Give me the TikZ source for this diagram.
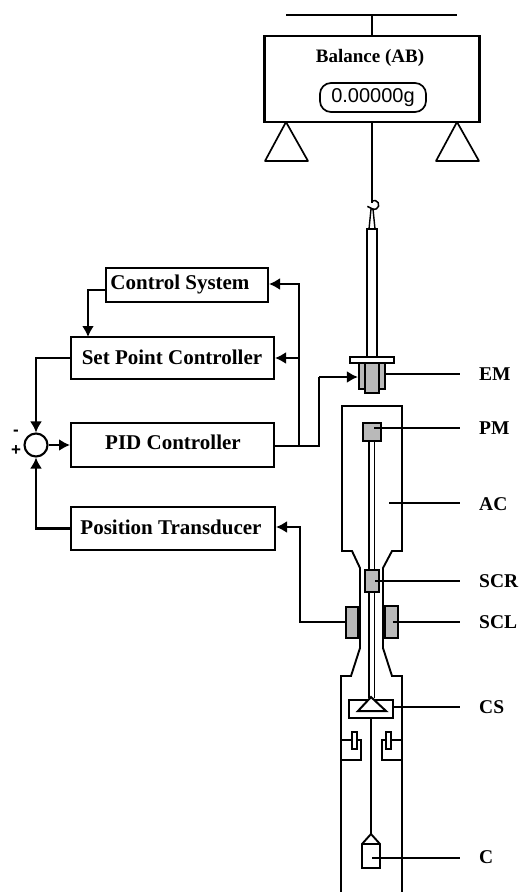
\documentclass[tikz,border=0pt]{standalone}
\usepackage{fontspec}
\setmainfont{Liberation Serif}
\setsansfont{Liberation Sans}
\usetikzlibrary{arrows.meta,calc}
\tikzset{
  ctrlbox/.style={draw,line width=2pt,anchor=center,inner sep=0pt},
  ctrltxt/.style={inner sep=0pt,font=\fontsize{21}{24}\selectfont\bfseries},
  conn/.style={line width=2.1pt},
  arr/.style={line width=2.1pt,-{Latex[length=11pt,width=12pt]}},
  wall/.style={line width=1.9pt,line join=miter},
  part/.style={draw,line width=2.2pt,fill=gray!55},
  tag/.style={anchor=west,inner sep=0pt,font=\fontsize{19.5}{22}\selectfont\bfseries},
  lead/.style={line width=1.7pt},
}
\begin{document}
\begin{tikzpicture}[x=1pt,y=-1pt]
\useasboundingbox (0,0) rectangle (522,892);
% balance
\coordinate (barL) at (286,15);
\coordinate (barR) at (457,15);
\coordinate (barM) at (372,15);
\draw[conn] (barL) -- (barR);
\node[draw,line width=2.1pt,minimum width=215pt,minimum height=86pt,inner sep=0pt] (bal) at (372,79) {};
\draw[line width=1.6pt] (barM) -- (bal.north);
\node[inner sep=0pt,font=\fontsize{19}{22}\selectfont\bfseries] (baltxt) at (370,58) {Balance (AB)};
\node[draw,line width=1.7pt,rounded corners=11pt,minimum width=106pt,minimum height=29pt,inner sep=0pt,font=\sffamily\fontsize{20}{22}\selectfont] (disp) at (373,97.5) {0.00000g};
\draw[line width=1.7pt,line join=round] (286,122) -- (265,161) -- (308,161) -- cycle;
\draw[line width=1.7pt,line join=round] (457,122) -- (436,161) -- (479,161) -- cycle;
% hook and rod
\coordinate (hook) at (372,203);
\draw[line width=1.7pt] (bal.south) -- (hook);
\draw[line width=1.5pt] (372,201) arc[start angle=120,end angle=-130,radius=4.5pt] -- ++(-4,-2);
\draw[line width=1.4pt] (369,229) -- (371,209) -- (373,209) -- (375,229);
\draw[line width=1.5pt] (367,357) -- (367,229) -- (377,229) -- (377,357);
% EM
\node[part,minimum width=26pt,minimum height=26pt,inner sep=0pt] (em) at (372,376) {};
\draw[line width=2.2pt,fill=gray!55] (365,363) rectangle (379,393);
\draw[line width=1.8pt,fill=white] (350,357) rectangle (394,363);
% chamber
\draw[wall] (341,892) -- (341,676) -- (351,676) -- (360,648) -- (360,568) -- (352,551) -- (342,551) -- (342,406) -- (402,406) -- (402,551) -- (392,551) -- (383,568) -- (383,648) -- (392,676) -- (402,676) -- (402,892);
% inner rod and magnets
\draw[line width=1.7pt] (369,441) -- (369,698);
\draw[line width=1.7pt] (374.5,441) -- (374.5,698);
\node[part,minimum width=18pt,minimum height=18pt,inner sep=0pt] (pm) at (372,432) {};
\node[part,minimum width=14pt,minimum height=22pt,inner sep=0pt] (scr) at (372,581) {};
\node[part,minimum width=12pt,minimum height=31pt,inner sep=0pt] (scll) at (352,622.5) {};
\node[part,minimum width=13pt,minimum height=32pt,inner sep=0pt] (sclr) at (391.5,622) {};
% cradle
\node[draw,line width=1.9pt,fill=white,minimum width=44pt,minimum height=18pt,inner sep=0pt] (cs) at (371,709) {};
\draw[line width=2pt,line join=miter,fill=white] (371,697) -- (358,711) -- (386,711) -- cycle;
\coordinate (cap) at (371,834);
\draw[line width=1.9pt] (cs.south -| cap) -- (cap);
\draw[line width=1.9pt] (cap) -- (362,844) -- (362,868) -- (380,868) -- (380,844) -- cycle;
\draw[line width=1.9pt] (362,844) -- (380,844);
% clips
\draw[line width=1.8pt] (341,740) -- (361,740) -- (361,760) -- (341,760);
\draw[line width=1.8pt] (402,740) -- (382,740) -- (382,760) -- (402,760);
\draw[line width=1.8pt,fill=white] (352,732) rectangle (357,749);
\draw[line width=1.8pt,fill=white] (386,732) rectangle (391,749);
% tags
\node[tag] (tEM) at (479,374) {EM};
\node[tag] (tPM) at (479,428) {PM};
\node[tag] (tAC) at (479,504) {AC};
\node[tag] (tSCR) at (479,581) {SCR};
\node[tag] (tSCL) at (479,622) {SCL};
\node[tag] (tCS) at (479,707) {CS};
\node[tag] (tC) at (479,857) {C};
\coordinate (lEM) at (385,374);
\coordinate (lPM) at (374,428);
\coordinate (lAC) at (389,503);
\coordinate (lSCR) at (375,581);
\coordinate (lSCL) at (393,622);
\coordinate (lCS) at (392,707);
\coordinate (lC) at (372,858);
\coordinate (eEM) at (460,374);
\coordinate (ePM) at (460,428);
\coordinate (eAC) at (460,503);
\coordinate (eSCR) at (460,581);
\coordinate (eSCL) at (460,622);
\coordinate (eCS) at (460,707);
\coordinate (eC) at (460,858);
\foreach \a/\b in {lEM/eEM,lPM/ePM,lAC/eAC,lSCR/eSCR,lSCL/eSCL,lCS/eCS,lC/eC} \draw[lead] (\a) -- (\b);
% control boxes
\node[ctrlbox,minimum width=162pt,minimum height=34pt] (ctl) at (187,285) {};
\node[ctrlbox,minimum width=203pt,minimum height=42pt] (spc) at (172.5,358) {};
\node[ctrlbox,minimum width=203pt,minimum height=44pt] (pid) at (172.5,445) {};
\node[ctrlbox,minimum width=204pt,minimum height=43pt] (pos) at (173,528.5) {};
\node[ctrltxt] (ctltxt) at (180,284) {Control System};
\node[ctrltxt] (spctxt) at (172,357) {Set Point Controller};
\node[ctrltxt] (pidtxt) at (173,442) {PID Controller};
\node[ctrltxt] (postxt) at (171,527) {Position Transducer};
\node[draw,line width=2.1pt,circle,minimum size=23pt,inner sep=0pt] (sum) at (36,445) {};
\node[inner sep=0pt,font=\sffamily\fontsize{17}{17}\selectfont\bfseries] (minus) at (16,433) {-};
\node[inner sep=0pt,font=\sffamily\fontsize{17}{17}\selectfont\bfseries] (plus) at (16,451) {+};
% connectors
\coordinate (n1) at (299,446);
\coordinate (n2) at (299,358);
\coordinate (n3) at (299,284);
\coordinate (n4) at (319,446);
\coordinate (n5) at (319,377);
\coordinate (n6) at (300,622);
\coordinate (n7) at (300,527);
\draw[arr] (ctl.west |- 0,290) -| (88,337);
\draw[arr] (spc.west) -| (sum.north);
\draw[arr] (sum.east) -- (pid.west |- sum.east);
\draw[arr] (pos.west) -| (sum.south);
\draw[conn] (pid.east |- n1) -- (n4) -- (n5);
\draw[arr] (n5) -- (em.west |- n5);
\draw[arr] (n1) -- (n3) -- (ctl.east |- n3);
\draw[arr] (n2) -- (spc.east);
\draw[arr] (scll.west |- n6) -- (n6) -- (n7) -- (pos.east |- n7);
\end{tikzpicture}
\end{document}
